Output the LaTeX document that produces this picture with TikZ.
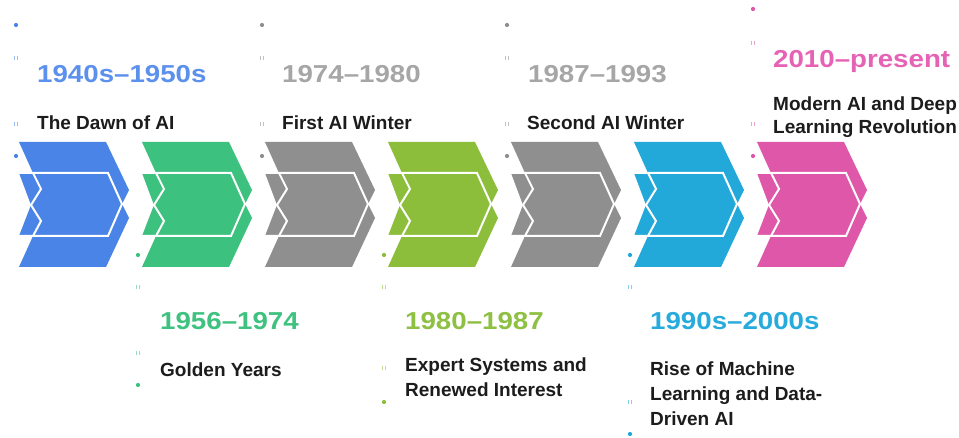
\documentclass[tikz,border=0pt]{standalone}
\usepackage{fontspec}
\setmainfont{Liberation Sans}
\newfontfamily\yearfont{Liberation Sans}[FakeStretch=1.13]
\definecolor{cBlue}{HTML}{4A84E6}
\definecolor{cGreen}{HTML}{3CC17E}
\definecolor{cGray}{HTML}{8F8F8F}
\definecolor{cOlive}{HTML}{8CBE3C}
\definecolor{cCyan}{HTML}{22A9DA}
\definecolor{cPink}{HTML}{DF57A9}
\definecolor{tBlue}{HTML}{5B90EC}
\definecolor{tGreen}{HTML}{3FC280}
\definecolor{tGray}{HTML}{A6A6A6}
\definecolor{tOlive}{HTML}{8EC043}
\definecolor{tCyan}{HTML}{27AADC}
\definecolor{tPink}{HTML}{E662B5}
\definecolor{titlec}{HTML}{1C1C1C}
\tikzset{
  chevline/.style={draw=white, line width=2pt, line join=miter},
  yeartext/.style={anchor=base west, inner sep=0pt, font=\yearfont\bfseries\fontsize{24.5}{24}\selectfont, text=#1},
  titletext/.style={anchor=base west, inner sep=0pt, font=\bfseries\fontsize{19}{24}\selectfont, text=titlec},
  dotm/.style={circle, fill=#1, inner sep=0pt, minimum size=4.2pt},
  tickm/.style={draw=#1!55, line width=0.7pt},
}
\newcommand{\tickpair}[3]{%
  \draw[tickm=#3] (#1-1.6,#2-2) -- (#1-1.6,#2+2);
  \draw[tickm=#3] (#1+1.6,#2-2) -- (#1+1.6,#2+2);}
\begin{document}
\begin{tikzpicture}[x=1pt,y=-1pt]
\useasboundingbox (0,0) rectangle (959,438);
\fill[white] (0,0) rectangle (959,438);
% chevrons
\foreach \x/\c in {19/cBlue,142/cGreen,265/cGray,388/cOlive,511/cGray,634/cCyan,757/cPink}{
  \begin{scope}[shift={(\x,0)}]
    \fill[\c] (0,142) -- (87,142) -- (110,190) -- (103,204) -- (110,218) -- (87,267)
      -- (0,267) -- (14,236) -- (0,236) -- (12,205) -- (0,173) -- (14,173) -- cycle;
    \draw[chevline] (0,173) -- (89,173) -- (103,204) -- (89,236) -- (0,236);
    \draw[chevline] (14,173) -- (22,189) -- (12,205) -- (22,221) -- (14,236);
  \end{scope}}
% column 1
\node[dotm=cBlue] (d1a) at (16,25) {};
\tickpair{16}{58}{cBlue}
\node[yeartext=tBlue] (y1) at (37,83) {1940s–1950s};
\tickpair{16}{124}{cBlue}
\node[titletext] (t1) at (37,130) {The Dawn of AI};
\node[dotm=cBlue] (d1b) at (16,156) {};
% column 3
\node[dotm=cGray] (d3a) at (262,25) {};
\tickpair{262}{58}{cGray}
\node[yeartext=tGray] (y3) at (282,83) {1974–1980};
\tickpair{262}{124}{cGray}
\node[titletext] (t3) at (282,130) {First AI Winter};
\node[dotm=cGray] (d3b) at (262,156) {};
% column 5
\node[dotm=cGray] (d5a) at (507,25) {};
\tickpair{507}{58}{cGray}
\node[yeartext=tGray] (y5) at (528,83) {1987–1993};
\tickpair{507}{124}{cGray}
\node[titletext] (t5) at (527,130) {Second AI Winter};
\node[dotm=cGray] (d5b) at (507,156) {};
% column 7
\node[dotm=cPink] (d7a) at (753,9) {};
\tickpair{753}{43}{cPink}
\node[yeartext=tPink] (y7) at (773,68) {2010–present};
\node[titletext] (t7a) at (773,111) {Modern AI and Deep};
\node[titletext] (t7b) at (773,134) {Learning Revolution};
\tickpair{753}{124}{cPink}
\node[dotm=cPink] (d7b) at (753,156) {};
% column 2
\node[dotm=cGreen] (d2a) at (138,255) {};
\tickpair{138}{287}{cGreen}
\node[yeartext=tGreen] (y2) at (160,330) {1956–1974};
\tickpair{138}{353}{cGreen}
\node[titletext] (t2) at (160,377) {Golden Years};
\node[dotm=cGreen] (d2b) at (138,385) {};
% column 4
\node[dotm=cOlive] (d4a) at (384,255) {};
\tickpair{384}{287}{cOlive}
\node[yeartext=tOlive] (y4) at (405,330) {1980–1987};
\node[titletext] (t4a) at (405,372) {Expert Systems and};
\node[titletext] (t4b) at (405,396) {Renewed Interest};
\tickpair{384}{368}{cOlive}
\node[dotm=cOlive] (d4b) at (384,402) {};
% column 6
\node[dotm=cCyan] (d6a) at (630,255) {};
\tickpair{630}{287}{cCyan}
\node[yeartext=tCyan] (y6) at (650,330) {1990s–2000s};
\node[titletext] (t6a) at (650,376) {Rise of Machine};
\node[titletext] (t6b) at (650,400) {Learning and Data-};
\node[titletext] (t6c) at (650,425) {Driven AI};
\tickpair{630}{402}{cCyan}
\node[dotm=cCyan] (d6b) at (630,434) {};
\end{tikzpicture}
\end{document}
